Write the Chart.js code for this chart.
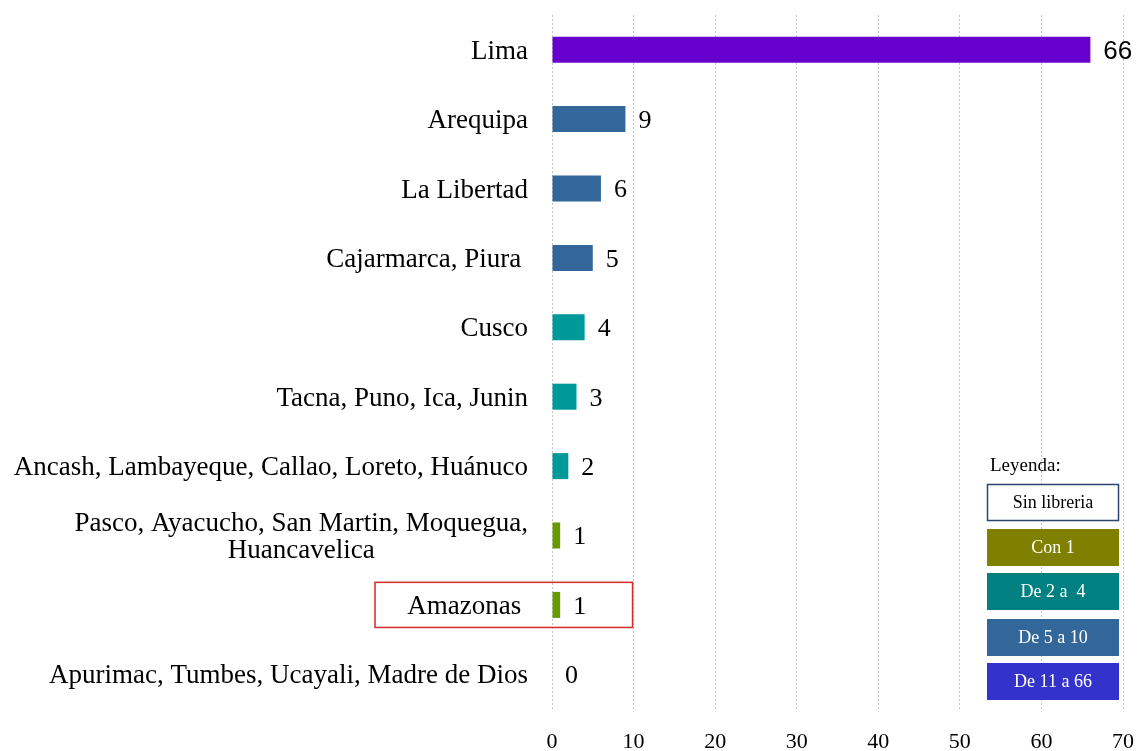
<!DOCTYPE html>
<html lang="es">
<head>
<meta charset="utf-8">
<title>Librerías por departamento</title>
<script src="https://cdn.jsdelivr.net/npm/chart.js@4/dist/chart.umd.min.js"></script>
<style>
  html, body { margin: 0; padding: 0; background: #ffffff; }
  #wrap { width: 1144px; height: 751px; position: relative; }
</style>
</head>
<body>
<div id="wrap"><canvas id="chart" width="1144" height="751"></canvas></div>
<script>
// Departamentos agrupados (una línea por fila; arrays = varias líneas)
const categories = [
  ["Lima"],
  ["Arequipa"],
  ["La Libertad"],
  ["Cajarmarca, Piura "],
  ["Cusco"],
  ["Tacna, Puno, Ica, Junin"],
  ["Ancash, Lambayeque, Callao, Loreto, Huánuco"],
  ["Pasco, Ayacucho, San Martin, Moquegua,", "Huancavelica"],
  ["Amazonas "],
  ["Apurimac, Tumbes, Ucayali, Madre de Dios"]
];

// Número de librerías
const values = [66, 9, 6, 5, 4, 3, 2, 1, 1, 0];

// Color de cada barra según su rango
const barColors = [
  "#6600CC", "#336699", "#336699", "#336699",
  "#009999", "#009999", "#009999",
  "#669900", "#669900", "#669900"
];

// Eje X
const xTicks = [0, 10, 20, 30, 40, 50, 60, 70];

// Leyenda de rangos
const legendLabels = ["Sin libreria", "Con 1", "De 2 a  4", "De 5 a 10", "De 11 a 66"];
const legendColors = ["#FFFFFF", "#808000", "#008080", "#336699", "#3333CC"];

// Fila resaltada
const highlighted = "Amazonas ";

const SERIF = "'Liberation Serif', 'Times New Roman', serif";

const overlay = {
  id: "overlay",
  afterDatasetsDraw(chart) {
    const ctx = chart.ctx;
    const xs = chart.scales.x;
    const ys = chart.scales.y;
    const meta = chart.getDatasetMeta(0);
    const labelRight = 528;

    ctx.save();
    ctx.fillStyle = "#000";
    ctx.textBaseline = "middle";

    categories.forEach((lines, i) => {
      const yc = ys.getPixelForValue(i);
      ctx.fillStyle = "#000";
      ctx.font = "27px " + SERIF;
      if (lines.length === 1) {
        ctx.textAlign = "right";
        ctx.fillText(lines[0], labelRight, yc + 2);
      } else {
        const lh = 27;
        const y0 = yc - lh / 2 + 2;
        const w0 = ctx.measureText(lines[0]).width;
        ctx.textAlign = "right";
        ctx.fillText(lines[0], labelRight, y0);
        ctx.textAlign = "center";
        ctx.fillText(lines[1], labelRight - w0 / 2, y0 + lh);
      }

      // valor al final de la barra
      const bar = meta.data[i];
      const v = values[i];
      ctx.textAlign = "left";
      ctx.font = (v >= 10 ? "26px 'Liberation Sans', Arial, sans-serif" : "26px " + SERIF);
      ctx.fillText(String(v), bar.x + 13, yc + 2);
    });

    // recuadro rojo sobre la fila resaltada
    const hi = categories.findIndex(c => c[0] === highlighted);
    if (hi >= 0) {
      const yc = ys.getPixelForValue(hi);
      const step = Math.abs(ys.getPixelForValue(1) - ys.getPixelForValue(0));
      const h = step * 0.65;
      ctx.strokeStyle = "#D42A2A";
      ctx.lineWidth = 1.5;
      const x1 = xs.getPixelForValue(10) - 1;
      ctx.strokeRect(375, yc - h / 2, x1 - 375, h);
    }

    // leyenda
    ctx.textAlign = "left";
    ctx.font = "19px " + SERIF;
    ctx.fillStyle = "#000";
    ctx.fillText("Leyenda:", 990, 466);
    const bx = 987, bw = 132, bh = 37;
    const tops = [484, 529, 573, 619, 663];
    legendLabels.forEach((t, i) => {
      const top = tops[i];
      ctx.fillStyle = legendColors[i];
      ctx.fillRect(bx, top, bw, bh);
      if (i === 0) {
        ctx.strokeStyle = "#2E4470";
        ctx.lineWidth = 1.5;
        ctx.strokeRect(bx + 0.5, top + 0.5, bw - 1, bh - 1);
      }
      ctx.fillStyle = i === 0 ? "#000" : "#FFFFFF";
      ctx.textAlign = "center";
      ctx.font = "18px " + SERIF;
      ctx.fillText(t, bx + bw / 2, top + bh / 2 + 1);
    });
    ctx.restore();
  }
};

new Chart(document.getElementById("chart"), {
  type: "bar",
  data: {
    labels: categories.map(c => c.join(" ")),
    datasets: [{
      data: values,
      backgroundColor: barColors,
      borderWidth: 0,
      barPercentage: 0.375,
      categoryPercentage: 1
    }]
  },
  options: {
    indexAxis: "y",
    responsive: false,
    animation: false,
    layout: { padding: { left: 544, right: 21, top: 15, bottom: 0 } },
    plugins: { legend: { display: false }, tooltip: { enabled: false } },
    scales: {
      x: {
        min: xTicks[0],
        max: xTicks[xTicks.length - 1],
        afterBuildTicks(scale) { scale.ticks = xTicks.map(v => ({ value: v })); },
        afterFit(scale) {
          scale.height = 42;
          scale.paddingLeft = 0;
          scale.paddingRight = 0;
        },
        ticks: { color: "#000", font: { family: SERIF, size: 22 }, padding: 20, maxRotation: 0 },
        grid: { color: "#C4C4C4", lineWidth: 1, drawTicks: false },
        border: { display: false, dash: [2, 2] }
      },
      y: {
        ticks: { display: false },
        grid: { display: false },
        border: { display: false }
      }
    }
  },
  plugins: [overlay]
});
</script>
</body>
</html>
